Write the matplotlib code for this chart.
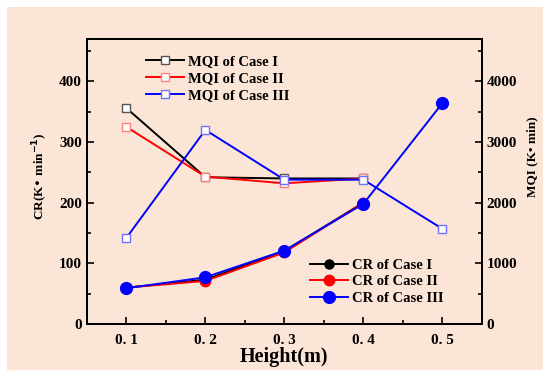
import numpy as np
import matplotlib.pyplot as plt
from matplotlib.patches import Rectangle
from matplotlib.ticker import MultipleLocator, FuncFormatter

plt.rcParams['font.family'] = ['Liberation Serif', 'DejaVu Serif']
plt.rcParams['font.weight'] = 'bold'

height = [0.1, 0.2, 0.3, 0.4, 0.5]

# CR (K/min), left axis
cr_case1 = [60, 73, 120, 200]
cr_case2 = [60, 71, 118, 200]
cr_case3 = [59, 77, 121, 198, 364]

# MQI (K*min), right axis
mqi_case1 = [3560, 2420, 2400, 2400]
mqi_case2 = [3250, 2430, 2320, 2400]
mqi_case3 = [1420, 3200, 2380, 2380, 1570]

fig = plt.figure(figsize=(5.5, 3.77), dpi=100)
fig.patch.set_facecolor('white')
fig.patches.append(Rectangle((7 / 550, 7 / 377), 536 / 550, 363 / 377,
                             transform=fig.transFigure, facecolor='#FBE5D6',
                             edgecolor='none', zorder=-10))

ax = fig.add_axes([0.158, 0.1406, 0.718, 0.756])
ax.set_facecolor('none')
ax2 = ax.twinx()
ax2.set_facecolor('none')

# MQI lines with open squares
sq = dict(marker='s', markersize=6, markerfacecolor='white', lw=1.4, markeredgewidth=1.0)
l1, = ax2.plot(height[:4], mqi_case1, color='black', label='MQI of Case I', markeredgecolor='#555555', **sq)
l2, = ax2.plot(height[:4], mqi_case2, color='red', label='MQI of Case II', markeredgecolor='#ff8080', **sq)
l3, = ax2.plot(height, mqi_case3, color='blue', label='MQI of Case III', markeredgecolor='#7070ff', **sq)

# CR lines with filled circles (scaled x10 onto the shared right axis)
c1, = ax2.plot(height[:4], np.array(cr_case1) * 10, color='black', marker='o', markersize=6.5, lw=1.4, label='CR of Case I')
c2, = ax2.plot(height[:4], np.array(cr_case2) * 10, color='red', marker='o', markersize=7.5, lw=1.4, label='CR of Case II')
c3, = ax2.plot(height, np.array(cr_case3) * 10, color='blue', marker='o', markersize=8.5, lw=1.4, label='CR of Case III')

ax.set_xlim(0.05, 0.55)
ax.set_ylim(0, 470)
ax2.set_ylim(0, 4700)

ax.xaxis.set_major_locator(MultipleLocator(0.1))
ax.xaxis.set_minor_locator(MultipleLocator(0.05))
ax.xaxis.set_major_formatter(FuncFormatter(lambda v, p: f"{v:.1f}".replace('.', '. ')))
ax.yaxis.set_major_locator(MultipleLocator(100))
ax.yaxis.set_minor_locator(MultipleLocator(50))
ax2.yaxis.set_major_locator(MultipleLocator(1000))
ax2.yaxis.set_minor_locator(MultipleLocator(500))

for a in (ax, ax2):
    a.tick_params(which='both', direction='in', labelsize=11, width=1.2)
    a.tick_params(which='major', length=5)
    a.tick_params(which='minor', length=3)
    for s in a.spines.values():
        s.set_linewidth(1.4)
ax.tick_params(axis='x', pad=7)

ax.set_xlabel('Height(m)', fontsize=14.5, fontweight='bold', labelpad=0)
fig.text(40 / 550, 1 - 176 / 377, 'CR(K• min$^{\\mathbf{-1}}$)', rotation=90,
         fontsize=9.5, fontweight='bold', ha='center', va='center')
fig.text(532 / 550, 1 - 157 / 377, 'MQI (K• min)', rotation=90,
         fontsize=9.5, fontweight='bold', ha='center', va='center')

leg1 = ax2.legend(handles=[l1, l2, l3], loc='upper left', bbox_to_anchor=(0.135, 0.965),
                  frameon=False, fontsize=10.5, handlelength=2.6, handletextpad=0.3,
                  labelspacing=0.25, borderaxespad=0)
ax2.add_artist(leg1)
ax2.legend(handles=[c1, c2, c3], loc='lower left', bbox_to_anchor=(0.55, 0.045),
           frameon=False, fontsize=10.5, handlelength=2.6, handletextpad=0.3,
           labelspacing=0.25, borderaxespad=0)

fig.savefig('out.png', dpi=100, facecolor=fig.get_facecolor())
